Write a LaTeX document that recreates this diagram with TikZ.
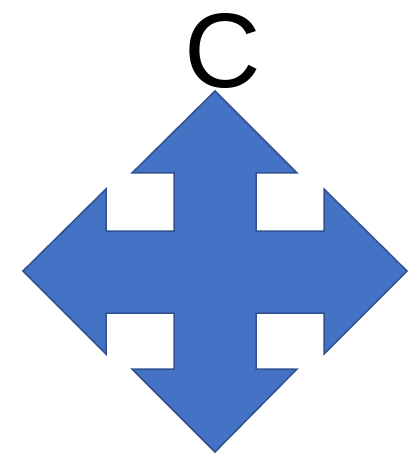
\documentclass[tikz,border=0pt]{standalone}
\usepackage{fontspec}
\setmainfont{Liberation Sans}
\usepackage{tikz}
\definecolor{quadfill}{HTML}{4472C4}
\definecolor{quadline}{HTML}{2F528F}

\begin{document}
\begin{tikzpicture}[x=1pt, y=-1pt,
  quad/.style={fill=quadfill, draw=quadline, line width=1.5pt, line join=miter},
  letter/.style={inner sep=0pt, font=\fontsize{106}{106}\selectfont}]
  \useasboundingbox (0,0) rectangle (411,454);
  % four-way arrow
  \draw[quad] (215,91) -- (297,173) -- (256,173) -- (256,231) -- (324,231)
    -- (324,189) -- (407,271) -- (324,354) -- (324,313) -- (256,313)
    -- (256,369) -- (297,369) -- (215,452) -- (132,369) -- (174,369)
    -- (174,313) -- (106,313) -- (106,354) -- (23,271) -- (106,189)
    -- (106,231) -- (174,231) -- (174,173) -- (132,173) -- cycle;
  \node[letter, anchor=base] (label) at (223,88) {C};
\end{tikzpicture}
\end{document}
